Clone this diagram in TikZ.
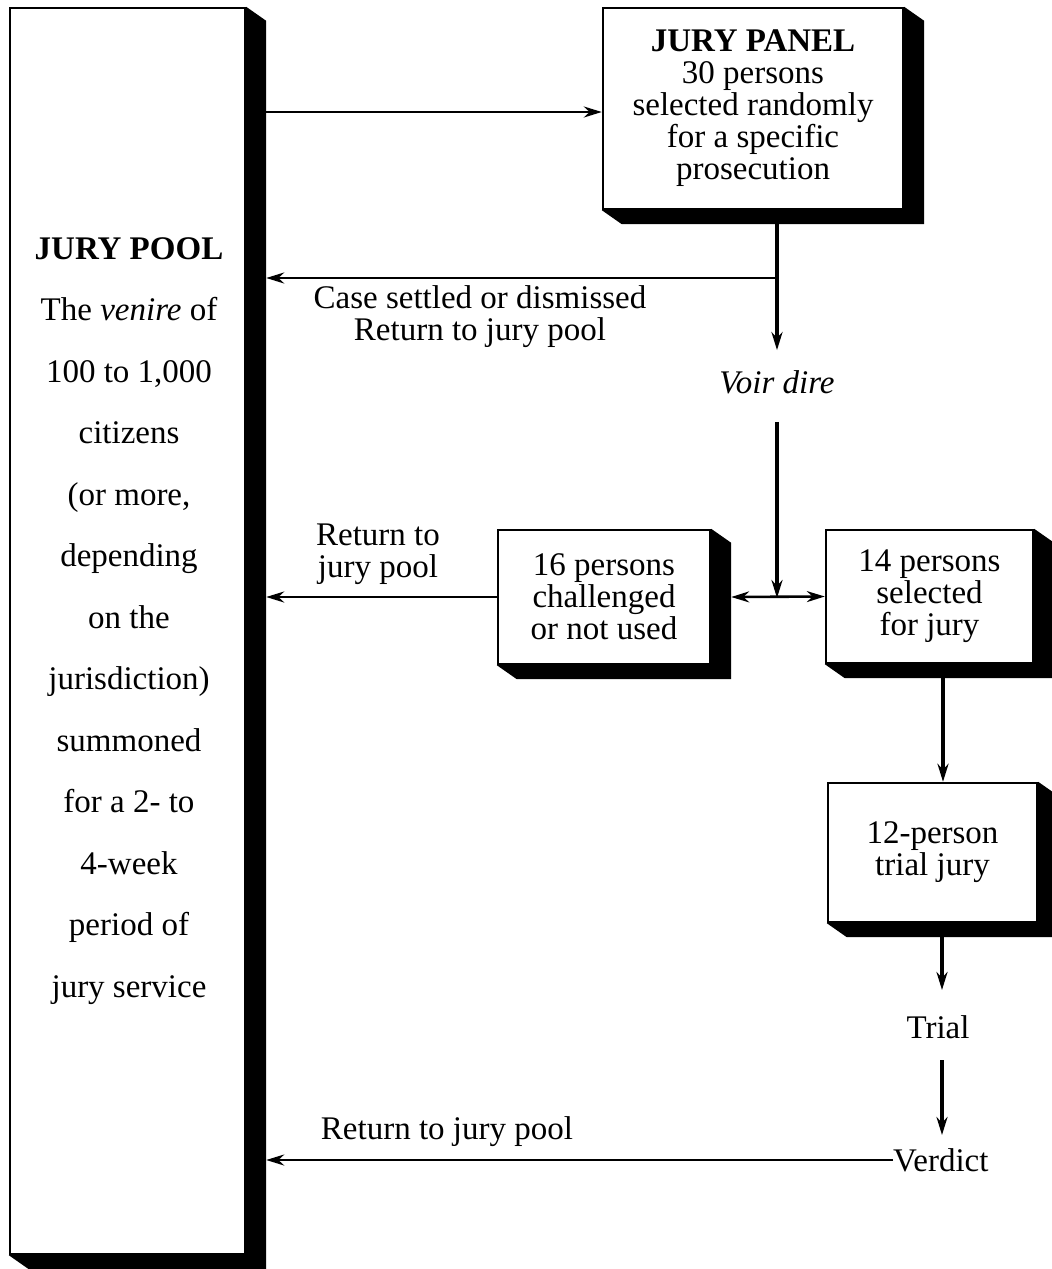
\documentclass[tikz,border=0pt]{standalone}
\usepackage{fontspec}
\setmainfont{Liberation Serif}
\usetikzlibrary{positioning, arrows.meta, calc}
\tikzstyle{arrow} = [line width=2.6pt,->,>={Stealth[length=18pt,width=11pt]}]
\tikzstyle{varrow} = [arrow, line width=3.4pt]
\newcommand{\jfont}{\fontsize{33}{32}\selectfont\lineskiplimit=-50pt}
% black 3d extrusion at right and bottom of a box
\newcommand{\boxshade}[1]{%
  \fill (#1.north east) -- ++(20,14) -- ($(#1.south east)+(20,14)$)
    -- ($(#1.south west)+(20,14)$) -- (#1.south west) -- (#1.south east) -- cycle;}

\begin{document}
\begin{tikzpicture}[x=1pt, y=-1pt]
                    \tikzstyle{every node}=[font=\jfont, align=center]
                    \tikzstyle{panelbox} = [rectangle, draw=black, line width=2.4pt, fill=white, inner sep=0pt]
                    \tikzstyle{label} = [inner sep=0pt]
                    \useasboundingbox (0,0) rectangle (1052,1269);

                    \node[panelbox, minimum width=235pt, minimum height=1246pt](pool) at (127.5,631) {};
                    \node[label, font=\fontsize{33}{61.5}\selectfont](pooltext) at (129,621) {\textbf{JURY POOL}\\The \textit{venire} of\\100 to 1,000\\citizens\\(or more,\\depending\\on the\\jurisdiction)\\summoned\\for a 2- to\\4-week\\period of\\jury service};
                    \node[panelbox, minimum width=300pt, minimum height=201pt](panel) at (753,108.5) {\textbf{JURY PANEL}\\30 persons\\selected randomly\\for a specific\\prosecution};
                    \node[panelbox, minimum width=212pt, minimum height=134pt](challenged) at (604,597) {16 persons\\challenged\\or not used};
                    \node[panelbox, minimum width=207pt, minimum height=133pt](selected) at (929.5,596.5) {14 persons\\selected\\for jury};
                    \node[panelbox, minimum width=209pt, minimum height=139pt](trialjury) at (932.5,852.5) {12-person\\trial jury};
                    \boxshade{pool}
                    \boxshade{panel}
                    \boxshade{challenged}
                    \boxshade{selected}
                    \boxshade{trialjury}

                    \node[label](voir) at (777,382) {\textit{Voir dire}};
                    \node[label](trial) at (938,1027) {Trial};
                    \node[label, anchor=west](verdict) at (893,1160) {Verdict};
                    \node[label](settled) at (480,317) {Case settled or dismissed\\Return to jury pool};
                    \node[label](back1) at (378,554) {Return to\\jury pool};
                    \node[label](back2) at (447,1132) {Return to jury pool};

                    \coordinate (poolR) at ([xshift=20pt]pool.east);
                    \coordinate (ptop) at (777,222);
                    \coordinate (split) at (777,278);
                    \coordinate (join) at (777,598);

                    \draw[arrow] (poolR |- 0,112) -- (panel.west |- 0,112);
                    \draw[varrow] (ptop) -- ([yshift=20pt]voir.north);
                    \draw[arrow] (split) -- (split -| poolR);
                    \draw[varrow] ([yshift=-28pt]voir.south) -- (join);
                    \draw[arrow, <->] ([xshift=20pt]challenged.east) -- (selected.west);
                    \draw[arrow] (challenged.west) -- (challenged.west -| poolR);
                    \draw[varrow] ([yshift=-14pt]selected.south -| 943,0) -- (trialjury.north -| 943,0);
                    \draw[varrow] ([yshift=-12pt]trialjury.south -| 942,0) -- (942,990);
                    \draw[varrow] (942,1060) -- (942,1135);
                    \draw[arrow] (verdict.west) -- (verdict.west -| poolR);
            \end{tikzpicture}
\end{document}
